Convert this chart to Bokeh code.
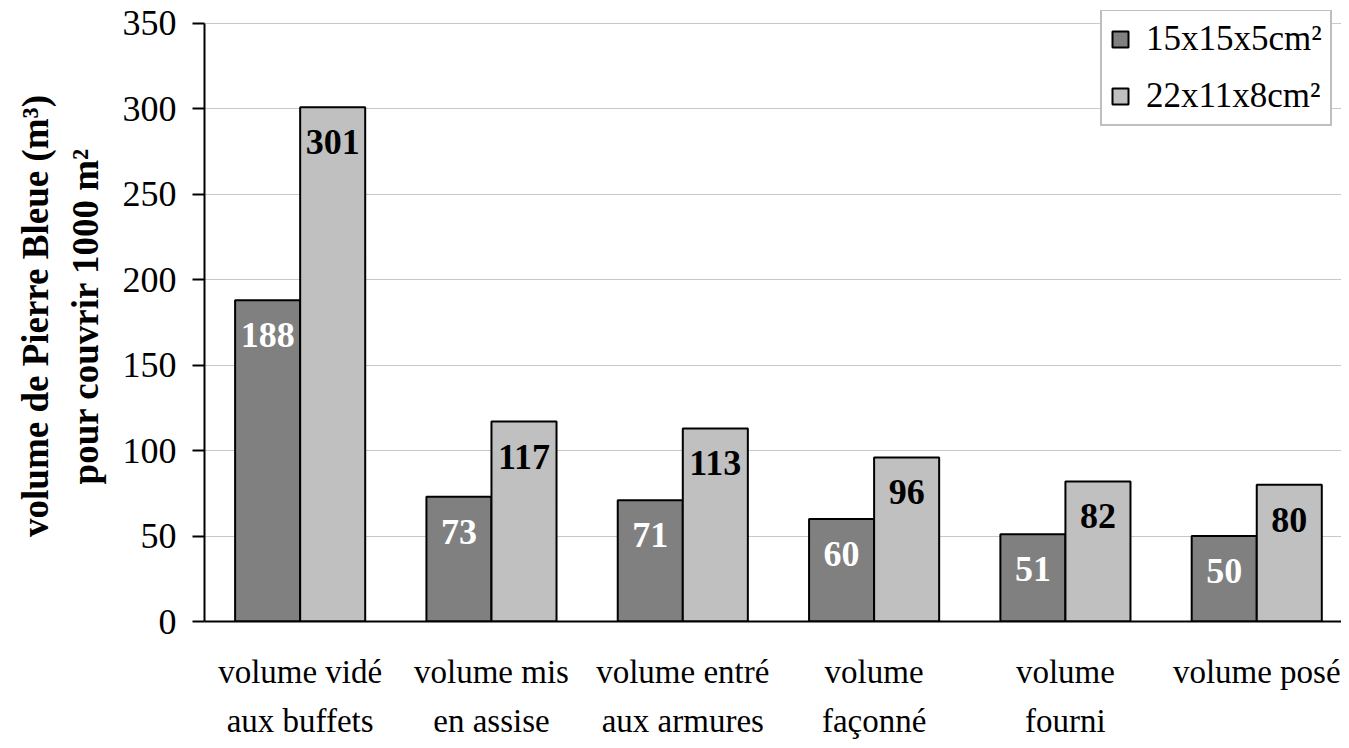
from bokeh.plotting import figure
from bokeh.models import (ColumnDataSource, Range1d, FixedTicker, LabelSet,
                          Legend, LegendItem)
from bokeh.embed import file_html
from bokeh.resources import INLINE

categories = ["volume vidé\naux buffets", "volume mis\nen assise",
              "volume entré\naux armures", "volume\nfaçonné",
              "volume\nfourni", "volume posé"]
series_names = ["15x15x5cm²", "22x11x8cm²"]
small_values = [188, 73, 71, 60, 51, 50]
large_values = [301, 117, 113, 96, 82, 80]
y_ticks = [0, 50, 100, 150, 200, 250, 300, 350]

FONT = "Liberation Serif"
DARK = "#808080"
LIGHT = "#c0c0c0"
BAR_W = 0.34

n = len(categories)
centers = [i + 0.5 for i in range(n)]

src_small = ColumnDataSource(dict(
    x=[c - BAR_W / 2 for c in centers], y=small_values,
    lab=[str(v) for v in small_values]))
src_large = ColumnDataSource(dict(
    x=[c + BAR_W / 2 for c in centers], y=large_values,
    lab=[str(v) for v in large_values]))

y_max = y_ticks[-1]
p = figure(width=1341, height=742, output_backend="svg", toolbar_location=None,
           x_range=Range1d(0, 5.943), y_range=Range1d(0, y_max * 613 / 600),
           min_border_left=204, min_border_right=0, min_border_top=10,
           min_border_bottom=119)
p.outline_line_color = None
p.background_fill_color = "white"

r1 = p.vbar(x="x", top="y", width=BAR_W, bottom=0, source=src_small,
            fill_color=DARK, line_color="black", line_width=2)
r2 = p.vbar(x="x", top="y", width=BAR_W, bottom=0, source=src_large,
            fill_color=LIGHT, line_color="black", line_width=2)

p.add_layout(LabelSet(x="x", y="y", text="lab", source=src_small,
                      y_offset=-35, text_align="center", text_baseline="middle",
                      text_font=FONT, text_font_style="bold",
                      text_font_size="36px", text_color="white"))
p.add_layout(LabelSet(x="x", y="y", text="lab", source=src_large,
                      y_offset=-35, text_align="center", text_baseline="middle",
                      text_font=FONT, text_font_style="bold",
                      text_font_size="36px", text_color="black"))

# x axis
p.xaxis.ticker = FixedTicker(ticks=centers)
p.xaxis.major_label_overrides = {c: lab for c, lab in zip(centers, categories)}
p.xaxis.major_tick_line_color = None
p.xaxis.minor_tick_line_color = None
p.xaxis.axis_line_color = "black"
p.xaxis.axis_line_width = 2
p.xaxis.major_label_text_font = FONT
p.xaxis.major_label_text_font_size = "33px"
p.xaxis.major_label_text_color = "black"
p.xaxis.major_label_text_line_height = 1.38
p.xaxis.major_label_standoff = 26

# y axis
p.yaxis.ticker = FixedTicker(ticks=y_ticks)
p.yaxis.bounds = (0, y_max)
p.yaxis.axis_line_color = "black"
p.yaxis.axis_line_width = 2
p.yaxis.major_tick_line_color = "black"
p.yaxis.major_tick_line_width = 2
p.yaxis.major_tick_out = 12
p.yaxis.major_tick_in = 0
p.yaxis.minor_tick_line_color = None
p.yaxis.major_label_text_font = FONT
p.yaxis.major_label_text_font_size = "36px"
p.yaxis.major_label_text_color = "black"
p.yaxis.major_label_standoff = 16
p.yaxis.axis_label = "volume de Pierre Bleue (m³)\npour couvrir 1000 m²"
p.yaxis.axis_label_text_font = FONT
p.yaxis.axis_label_text_font_size = "37px"
p.yaxis.axis_label_text_font_style = "bold"
p.yaxis.axis_label_text_color = "black"
p.yaxis.axis_label_standoff = 14

p.xgrid.grid_line_color = None
p.ygrid.ticker = FixedTicker(ticks=y_ticks)
p.ygrid.grid_line_color = "#c8c8c8"
p.ygrid.grid_line_width = 1

legend = Legend(items=[LegendItem(label=series_names[0], renderers=[r1]),
                       LegendItem(label=series_names[1], renderers=[r2])],
                location=(896, 495))
legend.label_text_font = FONT
legend.label_text_font_size = "35px"
legend.label_text_color = "black"
legend.glyph_width = 20
legend.glyph_height = 20
legend.label_height = 40
legend.spacing = 17
legend.padding = 8
legend.label_standoff = 16
legend.border_line_color = "#808080"
legend.border_line_width = 2
legend.background_fill_alpha = 1
legend.margin = 0
p.add_layout(legend)

open("out.html", "w").write(file_html(p, INLINE))
